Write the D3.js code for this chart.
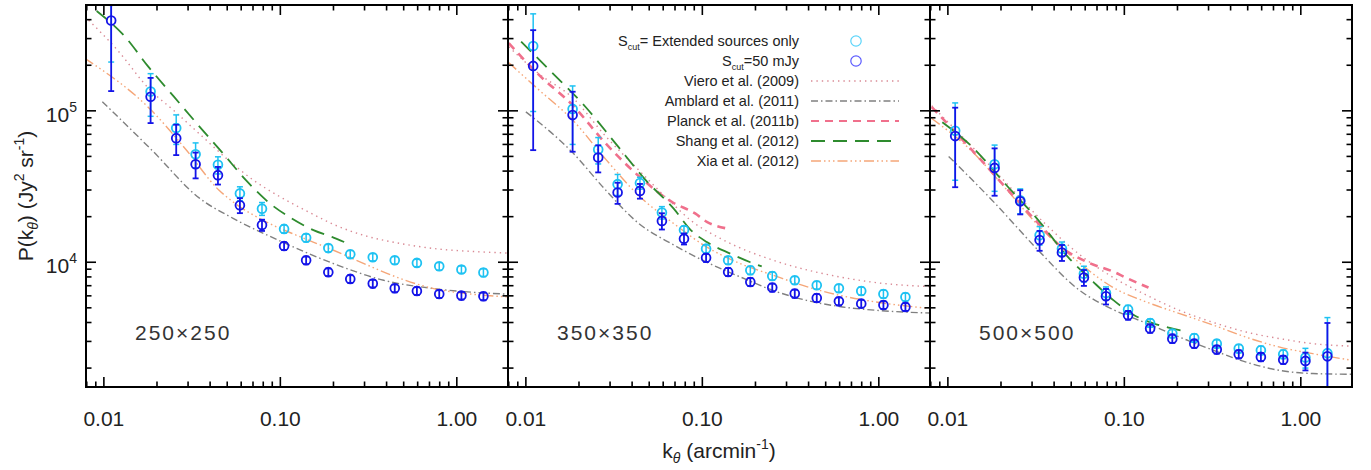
<!DOCTYPE html>
<html><head><meta charset="utf-8">
<script src="https://cdn.jsdelivr.net/npm/d3@7"></script>
<style>body{margin:0;background:#fff;} svg{display:block;font-family:"Liberation Sans",Helvetica,Arial,sans-serif;}</style>
</head><body><svg id="c" width="1371" height="470"></svg>
<script>
// ---------------- DATA ----------------
const panelLabels = ["250×250", "350×350", "500×500"];
const kVals = [0.011,0.0184,0.0257,0.0331,0.0443,0.059,0.0787,0.105,0.14,0.187,0.249,0.334,0.445,0.594,0.795,1.062,1.415];
const xTickLabels = ["0.01", "0.10", "1.00"];
const xTickValues = [0.01, 0.1, 1];
const yTickValues = [1e4, 1e5];
const yTickExp = ["4", "5"];

// Extended sources only (cyan) and S_cut = 50 mJy (blue)
const ext250 = [5.3e5,1.34e5,7.7e4,5.17e4,4.4e4,2.85e4,2.26e4,1.66e4,1.45e4,1.24e4,1.13e4,1.08e4,1.03e4,9.9e3,9.4e3,8.95e3,8.55e3];
const extErr250 = [3.2e5,4.2e4,1.7e4,9.7e3,5.7e3,3.0e3,2.2e3,1.0e3,8.5e2,7e2,6.5e2,6e2,6e2,5.5e2,5.5e2,5e2,5e2];
const cut250 = [3.95e5,1.24e5,6.6e4,4.44e4,3.76e4,2.38e4,1.76e4,1.28e4,1.03e4,8.6e3,7.76e3,7.23e3,6.73e3,6.46e3,6.17e3,6.02e3,5.96e3];
const cutErr250 = [2.6e5,4.1e4,1.5e4,8.6e3,5e3,2.7e3,1.5e3,7.5e2,6e2,5e2,4.5e2,4.2e2,4e2,3.8e2,3.6e2,3.5e2,3.5e2];

const ext350 = [2.68e5,1.03e5,5.56e4,3.28e4,3.34e4,2.13e4,1.63e4,1.23e4,1.03e4,8.85e3,8.12e3,7.6e3,7.05e3,6.73e3,6.46e3,6.17e3,5.9e3];
const extErr350 = [1.69e5,4.3e4,1.1e4,5.2e3,3e3,2e3,1e3,7.5e2,6e2,5.5e2,5e2,4.5e2,4.2e2,4e2,3.9e2,3.7e2,3.5e2];
const cut350 = [1.98e5,9.37e4,4.92e4,2.89e4,2.96e4,1.875e4,1.43e4,1.07e4,8.63e3,7.41e3,6.81e3,6.21e3,5.81e3,5.52e3,5.33e3,5.22e3,5.07e3];
const cutErr350 = [1.43e5,4.0e4,1.0e4,4.6e3,3.3e3,2.3e3,1.2e3,6.5e2,5.2e2,4.5e2,4.1e2,3.8e2,3.5e2,3.3e2,3.2e2,3.1e2,3.0e2];

const ext500 = [7.38e4,4.44e4,2.57e4,1.51e4,1.23e4,8.41e3,6.27e3,4.87e3,3.97e3,3.38e3,3.16e3,2.9e3,2.69e3,2.62e3,2.47e3,2.35e3,2.51e3];
const extErr500 = [3.9e4,1.5e4,4.8e3,2.1e3,1.3e3,1.0e3,6e2,3.2e2,2.5e2,2.1e2,2e2,1.8e2,1.7e2,1.7e2,1.6e2,3.5e2,1.8e3];
const cut500 = [6.81e4,4.2e4,2.53e4,1.4e4,1.16e4,7.93e3,5.96e3,4.47e3,3.65e3,3.13e3,2.9e3,2.65e3,2.47e3,2.37e3,2.27e3,2.23e3,2.39e3];
const cutErr500 = [3.68e4,1.45e4,4.6e3,2.1e3,1.4e3,9.5e2,7e2,3e2,2.3e2,2e2,1.8e2,1.6e2,1.5e2,1.5e2,1.4e2,3.0e2,1.58e3];

// Model curves [k, P]
const viero250 = [[0.0078,4.2e5],[0.012,2.5e5],[0.018,1.4e5],[0.025,1.0e5],[0.035,7.0e4],[0.05,4.8e4],[0.07,3.5e4],[0.1,2.7e4],[0.15,2.1e4],[0.2,1.78e4],[0.3,1.5e4],[0.48,1.33e4],[0.8,1.22e4],[1.2,1.18e4],[1.95,1.15e4]];
const amblard250 = [[0.0098,1.15e5],[0.0187,5.5e4],[0.0348,2.65e4],[0.054,1.95e4],[0.1,1.38e4],[0.2,9.8e3],[0.385,7.6e3],[0.74,6.7e3],[1.95,6.15e3]];
const shang250 = [[0.0091,4.56e5],[0.0132,3.08e5],[0.0179,1.95e5],[0.0248,1.25e5],[0.0344,8.0e4],[0.0469,5.3e4],[0.0636,3.5e4],[0.0871,2.45e4],[0.1132,1.98e4],[0.154,1.63e4],[0.2,1.455e4],[0.23,1.36e4]];
const xia250 = [[0.0078,2.22e5],[0.0187,1.0e5],[0.029,5.6e4],[0.0448,3.0e4],[0.054,2.5e4],[0.083,1.85e4],[0.13,1.47e4],[0.2,1.2e4],[0.31,9.6e3],[0.48,7.8e3],[0.74,6.7e3],[1.15,6.2e3],[1.95,5.9e3]];

const viero350 = [[0.008,2.65e5],[0.0119,1.75e5],[0.0184,1.22e5],[0.0283,6.8e4],[0.0437,4.05e4],[0.0674,2.45e4],[0.0855,1.9e4],[0.132,1.4e4],[0.253,1.03e4],[0.6,8.0e3],[1.0,7.3e3],[1.95,6.9e3]];
const amblard350 = [[0.01,9.85e4],[0.0184,5.3e4],[0.0283,3.0e4],[0.0437,1.8e4],[0.0689,1.3e4],[0.106,1.0e4],[0.164,8.0e3],[0.253,6.5e3],[0.39,5.6e3],[0.6,5.1e3],[1.0,4.8e3],[1.95,4.62e3]];
const planck350 = [[0.008,2.8e5],[0.0119,1.72e5],[0.0184,1.09e5],[0.0283,6.1e4],[0.0437,3.7e4],[0.0674,2.5e4],[0.091,2.1e4],[0.106,1.85e4],[0.138,1.67e4]];
const shang350 = [[0.0094,2.86e5],[0.0142,1.77e5],[0.0218,1.06e5],[0.0322,6.1e4],[0.0476,3.5e4],[0.069,2.25e4],[0.086,1.63e4],[0.106,1.36e4],[0.144,1.14e4],[0.187,1.0e4],[0.217,9.4e3]];
const xia350 = [[0.008,2.08e5],[0.0119,1.37e5],[0.0184,8.7e4],[0.0283,4.8e4],[0.0437,2.75e4],[0.0689,1.8e4],[0.106,1.26e4],[0.164,9.8e3],[0.253,8.2e3],[0.39,6.9e3],[0.6,6.05e3],[0.93,5.5e3],[1.95,4.95e3]];

const viero500 = [[0.0081,1.08e5],[0.0137,5.8e4],[0.0211,3.4e4],[0.0355,1.8e4],[0.056,1.12e4],[0.087,7.9e3],[0.134,6.05e3],[0.206,4.8e3],[0.32,4.0e3],[0.49,3.46e3],[0.76,3.13e3],[1.17,2.9e3],[1.95,2.79e3]];
const amblard500 = [[0.0101,5.0e4],[0.0185,2.45e4],[0.0325,1.2e4],[0.055,6.6e3],[0.087,4.85e3],[0.134,3.95e3],[0.206,3.2e3],[0.32,2.62e3],[0.49,2.19e3],[0.76,1.93e3],[1.17,1.84e3],[1.95,1.82e3]];
const planck500 = [[0.0081,1.06e5],[0.0137,5.5e4],[0.0211,3.15e4],[0.034,1.71e4],[0.044,1.26e4],[0.062,1.0e4],[0.088,8.6e3],[0.1,8.0e3],[0.137,6.8e3]];
const shang500 = [[0.0093,8.4e4],[0.0137,5.8e4],[0.0211,3.3e4],[0.0325,1.9e4],[0.048,1.08e4],[0.0668,7.4e3],[0.087,5.6e3],[0.1125,4.5e3],[0.146,3.95e3],[0.181,3.68e3],[0.23,3.46e3]];
const xia500 = [[0.0081,8.9e4],[0.0137,5.4e4],[0.0211,3.1e4],[0.0325,1.75e4],[0.05,1.1e4],[0.0867,6.8e3],[0.134,5.45e3],[0.206,4.58e3],[0.32,3.84e3],[0.49,3.2e3],[0.76,2.75e3],[1.17,2.49e3],[1.95,2.25e3]];

const legendNames = ["Viero et al. (2009)","Amblard et al. (2011)","Planck et al. (2011b)","Shang et al. (2012)","Xia et al. (2012)"];

// ---------------- LAYOUT / STYLE ----------------
const svg = d3.select("#c");
const lefts = [86, 508, 930], pw = 422, topY = 5, botY = 387;
const kDomain = [0.00792, 1.95], pDomain = [1500, 5e5];
const y = d3.scaleLog().domain(pDomain).range([botY, topY]);
const styles = {
  viero:   {color:"#d98a95", dash:"1.4,4", w:1.4},
  amblard: {color:"#808080", dash:"7,3,1.5,3", w:1.4},
  planck:  {color:"#f0708c", dash:"8,6", w:2.6},
  shang:   {color:"#2e8b2e", dash:"14,8", w:1.8},
  xia:     {color:"#f5a678", dash:"10,3,1.5,3,1.5,3,1.5,3", w:1.4}
};
const cyan = "#1ec2f2", blue = "#1414e8";
const txt = "#222";

const panelData = [
  {ext:ext250, extErr:extErr250, cut:cut250, cutErr:cutErr250, curves:{viero:viero250, amblard:amblard250, shang:shang250, xia:xia250}},
  {ext:ext350, extErr:extErr350, cut:cut350, cutErr:cutErr350, curves:{viero:viero350, amblard:amblard350, planck:planck350, shang:shang350, xia:xia350}},
  {ext:ext500, extErr:extErr500, cut:cut500, cutErr:cutErr500, curves:{viero:viero500, amblard:amblard500, planck:planck500, shang:shang500, xia:xia500}}
];

const defs = svg.append("defs");
const xMinor = [];
[0.001,0.01,0.1,1].forEach(d => { for (let m=2;m<=9;m++){ const v=m*d; if (v>kDomain[0] && v<kDomain[1]) xMinor.push(v);} });
const yMinor = [];
[1000,1e4,1e5].forEach(d => { for (let m=2;m<=9;m++){ const v=m*d; if (v>pDomain[0] && v<pDomain[1]) yMinor.push(v);} });

panelData.forEach((pd, i) => {
  const L = lefts[i];
  const x = d3.scaleLog().domain(kDomain).range([L, L+pw]);
  const cid = "clip"+i;
  defs.append("clipPath").attr("id", cid).append("rect")
    .attr("x", L).attr("y", topY).attr("width", pw).attr("height", botY-topY);
  const g = svg.append("g").attr("clip-path", `url(#${cid})`);

  const line = d3.line().x(d => x(d[0])).y(d => y(d[1])).curve(d3.curveMonotoneX);
  ["viero","amblard","xia","planck","shang"].forEach(name => {
    const data = pd.curves[name];
    if (!data) return;
    const s = styles[name];
    g.append("path").datum(data).attr("d", line)
      .attr("fill","none").attr("stroke", s.color).attr("stroke-width", s.w)
      .attr("stroke-dasharray", s.dash);
  });

  function drawSeries(vals, errs, color, lw) {
    const sg = g.append("g");
    vals.forEach((v, j) => {
      const cx = x(kVals[j]);
      const lo = Math.max(v - errs[j], 1), hi = v + errs[j];
      sg.append("line").attr("x1",cx).attr("x2",cx).attr("y1",y(lo)).attr("y2",y(hi))
        .attr("stroke",color).attr("stroke-width",lw);
      [lo, hi].forEach(e => sg.append("line").attr("x1",cx-3).attr("x2",cx+3).attr("y1",y(e)).attr("y2",y(e))
        .attr("stroke",color).attr("stroke-width",lw));
      sg.append("circle").attr("cx",cx).attr("cy",y(v)).attr("r",4.4)
        .attr("fill","none").attr("stroke",color).attr("stroke-width",1.8);
    });
  }
  drawSeries(pd.ext, pd.extErr, cyan, 1.5);
  drawSeries(pd.cut, pd.cutErr, blue, 1.8);

  // frame
  svg.append("rect").attr("x",L).attr("y",topY).attr("width",pw).attr("height",botY-topY)
    .attr("fill","none").attr("stroke","#000").attr("stroke-width",2);

  const tk = svg.append("g").attr("stroke","#000").attr("stroke-width",1.6);
  const xt = (v, len) => {
    tk.append("line").attr("x1",x(v)).attr("x2",x(v)).attr("y1",botY).attr("y2",botY-len);
    tk.append("line").attr("x1",x(v)).attr("x2",x(v)).attr("y1",topY).attr("y2",topY+len);
  };
  xTickValues.forEach(v => xt(v, 10));
  xMinor.forEach(v => xt(v, 5.5));
  const yt = (v, len) => {
    tk.append("line").attr("x1",L).attr("x2",L+len).attr("y1",y(v)).attr("y2",y(v));
    tk.append("line").attr("x1",L+pw).attr("x2",L+pw-len).attr("y1",y(v)).attr("y2",y(v));
  };
  yTickValues.forEach(v => yt(v, 10));
  yMinor.forEach(v => yt(v, 5.5));

  xTickValues.forEach((v, j) => {
    svg.append("text").attr("x", x(v)).attr("y", 426).attr("text-anchor","middle")
      .attr("font-size", 21).attr("fill", txt).text(xTickLabels[j]);
  });

  svg.append("text").attr("x", L+49).attr("y", 340).attr("font-size", 21)
    .attr("letter-spacing", 2).attr("fill", "#333").text(panelLabels[i]);
});

// Y tick labels (left panel only)
yTickValues.forEach((v, j) => {
  const t = svg.append("text").attr("x", 77).attr("y", y(v) + 11).attr("text-anchor","end")
    .attr("font-size", 21).attr("fill", txt);
  t.append("tspan").text("10");
  t.append("tspan").attr("font-size", 14).attr("dy", -10).text(yTickExp[j]);
});

// Axis titles
const yt = svg.append("text").attr("transform","translate(33,196) rotate(-90)")
  .attr("text-anchor","middle").attr("font-size",21).attr("fill",txt);
yt.append("tspan").text("P(k");
yt.append("tspan").attr("font-size",14).attr("font-style","italic").attr("dy",5).text("θ");
yt.append("tspan").attr("dy",-5).text(") (Jy");
yt.append("tspan").attr("font-size",14).attr("dy",-9).text("2");
yt.append("tspan").attr("dy",9).text(" sr");
yt.append("tspan").attr("font-size",14).attr("dy",-9).text("-1");
yt.append("tspan").attr("dy",9).text(")");

const xtt = svg.append("text").attr("x", 719).attr("y", 458).attr("text-anchor","middle")
  .attr("font-size",21).attr("fill",txt);
xtt.append("tspan").text("k");
xtt.append("tspan").attr("font-size",14).attr("font-style","italic").attr("dy",5).text("θ");
xtt.append("tspan").attr("dy",-5).text(" (arcmin");
xtt.append("tspan").attr("font-size",14).attr("dy",-9).text("-1");
xtt.append("tspan").attr("dy",9).text(")");

// Legend (in middle panel)
const lg = svg.append("g");
const rowY = j => 41 + 20*j;
const tx = 799;
const t0 = lg.append("text").attr("x",tx).attr("y",rowY(0)+5).attr("text-anchor","end").attr("font-size",14.5).attr("fill",txt);
t0.append("tspan").text("S");
t0.append("tspan").attr("font-size",9).attr("dy",4).text("cut");
t0.append("tspan").attr("dy",-4).text("= Extended sources only");
const t1 = lg.append("text").attr("x",tx).attr("y",rowY(1)+5).attr("text-anchor","end").attr("font-size",14.5).attr("fill",txt);
t1.append("tspan").text("S");
t1.append("tspan").attr("font-size",9).attr("dy",4).text("cut");
t1.append("tspan").attr("dy",-4).text("=50 mJy");
lg.append("circle").attr("cx",856).attr("cy",rowY(0)).attr("r",5.2).attr("fill","none").attr("stroke","#5ad4fa").attr("stroke-width",1.2);
lg.append("circle").attr("cx",856).attr("cy",rowY(1)).attr("r",5.2).attr("fill","none").attr("stroke","#5a5aff").attr("stroke-width",1.2);
["viero","amblard","planck","shang","xia"].forEach((name, j) => {
  const s = styles[name];
  lg.append("text").attr("x",tx).attr("y",rowY(j+2)+5).attr("text-anchor","end").attr("font-size",14.5).attr("fill",txt).text(legendNames[j]);
  lg.append("line").attr("x1",811).attr("x2",899).attr("y1",rowY(j+2)).attr("y2",rowY(j+2))
    .attr("stroke",s.color).attr("stroke-width",name==="planck"?2:(name==="shang"?2.2:1.3)).attr("stroke-dasharray",s.dash);
});
</script></body></html>
